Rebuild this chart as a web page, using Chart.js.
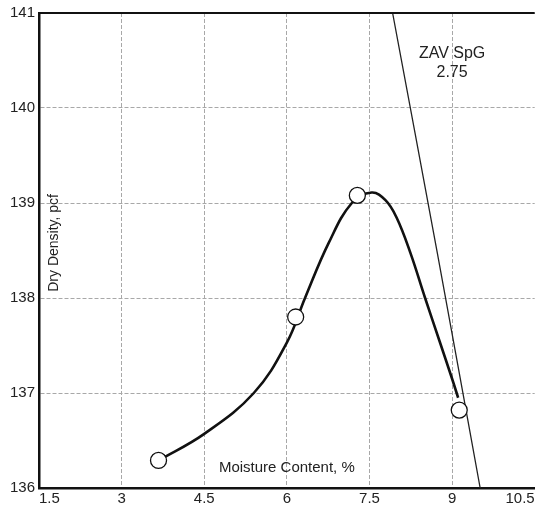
<!DOCTYPE html>
<html>
<head>
<meta charset="utf-8">
<script src="https://cdn.jsdelivr.net/npm/chart.js@4/dist/chart.umd.min.js"></script>
<style>
html,body{margin:0;padding:0;background:#fff;overflow:hidden}
#wrap{position:relative;width:544px;height:508px}
</style>
</head>
<body>
<div id="wrap"><canvas id="c"></canvas></div>
<script>
// ── Data ──
const testX=[3.67,6.16,7.28,9.13];
const testY=[136.29,137.80,139.08,136.82];
// fitted curve (it doesn't pass exactly through the tests)
const curveX=[3.67,4.5,5.4,6.0,6.33,6.76,7.18,7.54,7.79,7.99,8.24,8.51,8.77,9.0,9.11];
const curveY=[136.29,136.57,137.0,137.53,138.0,138.58,139.0,139.11,139.03,138.85,138.48,138.0,137.55,137.15,136.95];
// zero air voids line, SpG 2.75
const zavX=[7.92,8.73,9.51];
const zavY=[141,138.48,136];
const xTicks=[1.5,3,4.5,6,7.5,9,10.5];
const yTicks=[136,137,138,139,140,141];
const zavLabel=['ZAV SpG','2.75'];
const xTitle='Moisture Content, %';
const yTitle='Dry Density, pcf';

const FONT='"Liberation Sans", Arial, sans-serif';
const pts=(xs,ys)=>xs.map((x,i)=>({x,y:ys[i]}));

// ── Top border + in-plot texts ──
const decor={
  id:'decor',
  afterDraw(chart){
    const {ctx,chartArea:a,scales:{x,y}}=chart;
    ctx.save();
    ctx.strokeStyle='#111';ctx.lineWidth=2;
    ctx.beginPath();ctx.moveTo(a.left,a.top);ctx.lineTo(a.right,a.top);ctx.stroke();
    ctx.fillStyle='#222';ctx.textAlign='center';ctx.textBaseline='middle';
    ctx.font='16px '+FONT;
    ctx.fillText(zavLabel[0],x.getPixelForValue(9.0),y.getPixelForValue(140.57));
    ctx.fillText(zavLabel[1],x.getPixelForValue(9.0),y.getPixelForValue(140.37));
    ctx.font='15px '+FONT;
    ctx.fillText(xTitle,x.getPixelForValue(6.0),y.getPixelForValue(136.21));
    ctx.font='14px '+FONT;
    ctx.translate(x.getPixelForValue(1.77),y.getPixelForValue(138.58));
    ctx.rotate(-Math.PI/2);
    ctx.fillText(yTitle,0,0);
    ctx.restore();
  }
};

new Chart(document.getElementById('c'),{
  type:'scatter',
  data:{datasets:[
    {label:'Tests',data:pts(testX,testY),pointRadius:8,pointBackgroundColor:'#fff',pointBorderColor:'#111',pointBorderWidth:1.3,showLine:false},
    {label:'Curve',data:pts(curveX,curveY),showLine:true,pointRadius:0,borderColor:'#111',borderWidth:2.6,tension:0.4},
    {label:'ZAV',data:pts(zavX,zavY),showLine:true,pointRadius:0,borderColor:'#222',borderWidth:1.3,tension:0.3}
  ]},
  options:{
    responsive:true,maintainAspectRatio:false,animation:false,
    layout:{padding:0},
    plugins:{legend:{display:false},tooltip:{enabled:false}},
    scales:{
      x:{type:'linear',min:1.5,max:10.5,
        afterBuildTicks:s=>{s.ticks=xTicks.map(v=>({value:v}))},
        afterFit:s=>{s.height=20},
        ticks:{align:'inner',padding:2,color:'#222',font:{family:FONT,size:15},callback:v=>String(v)},
        // last gridline sits on the cut-off right edge, hide it
        grid:{color:c=>c.tick&&c.tick.value===10.5?'rgba(0,0,0,0)':'#a8a8a8',lineWidth:1,drawTicks:false},
        border:{color:'#111',width:2.5,dash:[4,2]}
      },
      y:{type:'linear',min:136,max:141,
        afterBuildTicks:s=>{s.ticks=yTicks.map(v=>({value:v}))},
        afterFit:s=>{s.width=39},
        ticks:{padding:4,color:'#222',font:{family:FONT,size:15},callback:v=>String(v)},
        grid:{color:'#a8a8a8',lineWidth:1,drawTicks:false},
        border:{color:'#111',width:2.5,dash:[4,2]}
      }
    }
  },
  plugins:[decor]
});
</script>
</body>
</html>
